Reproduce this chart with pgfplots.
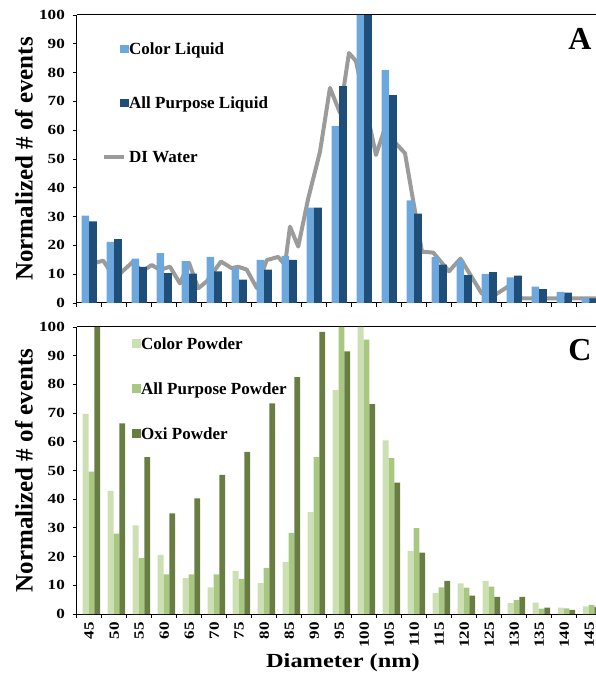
\documentclass[border=0pt]{standalone}
\usepackage{fontspec}
\setmainfont{Liberation Serif}
\newfontfamily\widefont{Liberation Serif}[FakeStretch=1.22]
\usepackage{pgfplots}
\pgfplotsset{compat=1.18}
\definecolor{cl}{RGB}{108,168,222}
\definecolor{ap}{RGB}{31,78,121}
\definecolor{di}{RGB}{155,155,155}
\definecolor{ga}{RGB}{205,224,180}
\definecolor{gb}{RGB}{168,200,130}
\definecolor{gc}{RGB}{104,125,66}
\pgfplotsset{
  base/.style={
    scale only axis, width=519.3pt,
    xmin=-0.5, xmax=20.27, ymin=0, ymax=100,
    axis x line=box, axis y line=left,
    x axis line style={-, line width=1pt}, y axis line style={-, line width=1pt},
    xtick pos=lower, ytick pos=left,
    xtick={0,...,20},
    ytick={0,10,...,100},
    minor xtick={-0.5,0.5,...,19.5},
    minor ytick={0,10,...,100},
    tick align=outside, major tick length=0pt, minor tick length=4pt,
    minor tick style={black, line width=0.8pt},
    /pgf/number format/assume math mode=true,
    yticklabel style={font=\widefont\bfseries\fontsize{14}{14}\selectfont, inner xsep=2pt, xshift=-9.7pt},
    xticklabel style={rotate=90, anchor=east, inner xsep=8pt, font=\widefont\bfseries\fontsize{14}{14}\selectfont},
    every axis y label/.style={at={(axis description cs:-0.1015,0.5)}, rotate=90, anchor=center,
      font=\bfseries\fontsize{25}{25}\selectfont},
    ylabel={Normalized \# of events},
    legend cell align=left,
    clip=true,
  },
  sq/.style={legend image code/.code={\path[draw=none,fill=none] (0pt,-4.25pt) rectangle (25pt,4.25pt); \fill[##1] (16pt,-4.25pt) rectangle (24.5pt,4.25pt);}},
  ln/.style={legend image code/.code={\path[draw=none,fill=none] (0pt,-4.25pt) rectangle (25pt,4.25pt); \draw[##1] (0pt,0pt) -- (20pt,0pt);}},
}
\begin{document}
\begin{tikzpicture}[x=1pt,y=1pt]
% ---------------- Panel A ----------------
\begin{axis}[base, at={(76.7pt,375pt)}, anchor=south west, height=288pt,
  xticklabels={},
  legend style={draw=none, fill=none, at={(axis description cs:0.0487,0.9019)}, anchor=north west,
    inner sep=0pt, row sep=42.5pt,
    nodes={inner sep=0pt, text height=11.5pt, text depth=0pt, font=\bfseries\fontsize{17}{17}\selectfont},
    /tikz/every even column/.style={column sep=2pt}},
]
\addlegendimage{sq, fill=cl, draw=none}
\addlegendentry{Color Liquid}
\addlegendimage{sq, fill=ap, draw=none}
\addlegendentry{All Purpose Liquid}
\addlegendimage{ln, draw=di, line width=4pt}
\addlegendentry{DI Water}
% DI Water line (behind bars)
\addplot[forget plot, draw=di, line width=4pt, line join=round] coordinates {
(-0.08,13.2) (0.56,14.7) (1.03,8.6) (1.76,14.4) (2.10,10.9) (2.50,13.2) (2.83,11.5) (3.23,12.6)
(3.63,6.8) (3.99,14.0) (4.36,5.1) (4.70,7.5) (5.27,14.4) (5.70,12.1) (5.96,12.6) (6.30,11.6)
(6.70,5.2) (7.10,14.9) (7.56,16.0) (7.83,13.2) (8.03,26.5) (8.36,19.6) (8.76,36.3) (9.23,52.5)
(9.63,74.7) (10.03,66) (10.39,86.8) (10.67,84) (11.47,51.4) (11.8,60) (12.31,55) (12.63,52)
(13.31,17.8) (13.76,17.5) (14.39,11) (14.85,15.4) (15.70,3.3) (16.23,2.8) (16.75,5.7) (17.31,1.6)
(20.27,1.6)};
% Color Liquid
\addplot[forget plot, ybar, bar width=7.6pt, bar shift=-3.8pt, fill=cl, draw=none] coordinates {
(0,30.3) (1,21.2) (2,15.4) (3,17.3) (4,14.5) (5,16.0) (6,12.1) (7,15.0) (8,16.4) (9,33.1) (10,61.4)
(11,100) (12,80.9) (13,35.6) (14,15.9) (15,15.0) (16,10.1) (17,8.9) (18,5.7) (19,3.9) (20,1.7)};
% All Purpose Liquid
\addplot[forget plot, ybar, bar width=7.6pt, bar shift=3.8pt, fill=ap, draw=none] coordinates {
(0,28.3) (1,22.2) (2,12.5) (3,10.4) (4,10.2) (5,11.0) (6,8.1) (7,11.6) (8,15.0) (9,33.1) (10,75.3)
(11,100) (12,72.2) (13,31.0) (14,13.3) (15,9.7) (16,10.7) (17,9.5) (18,4.8) (19,3.6) (20,1.6)};
\node[font=\bfseries\fontsize{32}{32}\selectfont] at (axis description cs:0.9692,0.9167) {A};
\end{axis}
% ---------------- Panel C ----------------
\begin{axis}[base, at={(76.7pt,64pt)}, anchor=south west, height=287pt,
  xticklabels={45,50,55,60,65,70,75,80,85,90,95,100,105,110,115,120,125,130,135,140,145},
  xlabel={Diameter (nm)},
  xlabel style={at={(axis description cs:0.5128,-0.1707)}, anchor=center,
    font=\widefont\bfseries\fontsize{20}{20}\selectfont},
  legend style={draw=none, fill=none, at={(axis description cs:0.0757,0.9632)}, anchor=north west,
    inner sep=0pt, row sep=33.5pt,
    nodes={inner sep=0pt, text height=11.5pt, text depth=0pt, font=\bfseries\fontsize{17}{17}\selectfont},
    /tikz/every even column/.style={column sep=2pt}},
]
\addlegendimage{sq, fill=ga, draw=none}
\addlegendentry{Color Powder}
\addlegendimage{sq, fill=gb, draw=none}
\addlegendentry{All Purpose Powder}
\addlegendimage{sq, fill=gc, draw=none}
\addlegendentry{Oxi Powder}
% Color Powder
\addplot[forget plot, ybar, bar width=5.8pt, bar shift=-3.6pt, fill=ga, draw=none] coordinates {
(0,69.7) (1,42.9) (2,30.9) (3,20.6) (4,12.5) (5,9.3) (6,14.9) (7,10.8) (8,18.2) (9,35.5) (10,78.1)
(11,100) (12,60.5) (13,22.0) (14,7.4) (15,10.7) (16,11.5) (17,3.8) (18,4.0) (19,2.2) (20,2.7)};
% All Purpose Powder
\addplot[forget plot, ybar, bar width=5.8pt, bar shift=2.2pt, fill=gb, draw=none] coordinates {
(0,49.6) (1,28.0) (2,19.5) (3,13.8) (4,13.8) (5,13.8) (6,12.2) (7,16.1) (8,28.3) (9,54.7) (10,100)
(11,95.6) (12,54.3) (13,29.9) (14,9.3) (15,9.2) (16,9.5) (17,4.8) (18,1.9) (19,2.0) (20,3.2)};
% Oxi Powder
\addplot[forget plot, ybar, bar width=5.8pt, bar shift=8.0pt, fill=gc, draw=none] coordinates {
(0,100) (1,66.4) (2,54.7) (3,35.1) (4,40.3) (5,48.5) (6,56.5) (7,73.4) (8,82.5) (9,98.3) (10,91.5)
(11,73.1) (12,45.8) (13,21.4) (14,11.5) (15,6.4) (16,6.0) (17,6.0) (18,2.2) (19,1.4) (20,2.5)};
\node[font=\bfseries\fontsize{32}{32}\selectfont] at (axis description cs:0.9692,0.92) {C};
\end{axis}
\pgfresetboundingbox
\path[use as bounding box] (0pt,0pt) rectangle (596pt,678pt);
\end{tikzpicture}
\end{document}
